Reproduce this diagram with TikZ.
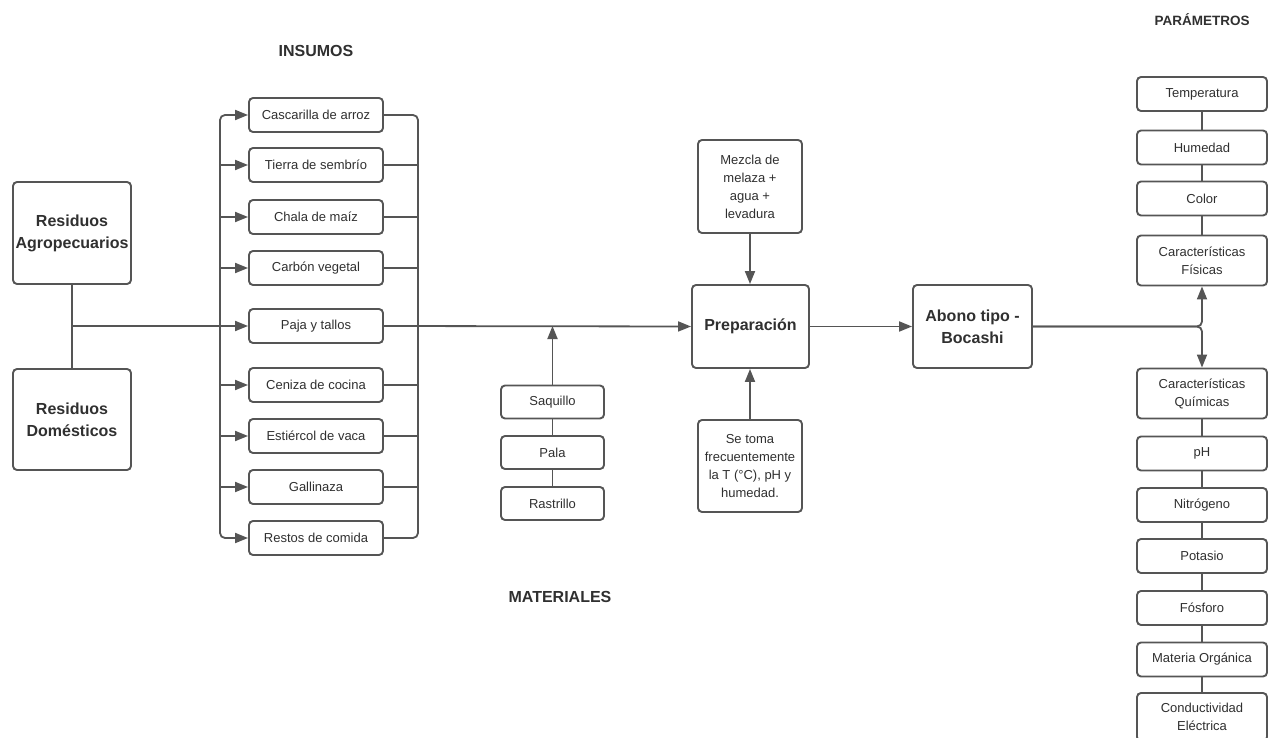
\documentclass[tikz,border=0pt]{standalone}
\usepackage{fontspec}
\setmainfont{Liberation Sans}
\usetikzlibrary{arrows.meta}
\definecolor{ln}{HTML}{555555}
\definecolor{tx}{HTML}{303030}
\begin{document}
\begin{tikzpicture}[x=1pt,y=-1pt,
  box/.style={draw=ln, line width=1.9pt, rounded corners=4pt, fill=white, text=tx, align=center, inner sep=1pt, font=\fontsize{13}{18}\selectfont},
  bigbox/.style={box, font=\bfseries\fontsize{16}{22}\selectfont},
  ibox/.style={box, minimum width=134pt, minimum height=34pt},
  mbox/.style={box, minimum width=103pt, minimum height=33pt},
  pbox/.style={box, minimum width=130pt, minimum height=34pt},
  pbox2/.style={box, minimum width=130pt, minimum height=50pt},
  conn/.style={draw=ln, line width=1.8pt},
  arr/.style={conn, -{Triangle[length=13pt,width=10pt]}},
  ttl/.style={text=tx, font=\bfseries\fontsize{16}{18}\selectfont}]
\useasboundingbox (0,0) rectangle (1270,738);
\fill[white] (0,0) rectangle (1270,738);

% titles
\node[ttl] (tins) at (316,51) {INSUMOS};
\node[ttl] (tmat) at (560,597) {MATERIALES};
\node[ttl, font=\bfseries\fontsize{13.5}{16}\selectfont] (tpar) at (1202,20) {PARÁMETROS};

% residuos
\node[bigbox, minimum width=118pt, minimum height=102pt] (agro) at (72,233) {Residuos\\Agropecuarios};
\node[bigbox, minimum width=118pt, minimum height=101pt] (dom) at (72,419.5) {Residuos\\Domésticos};

% insumos
\node[ibox] (cas) at (316,115) {Cascarilla de arroz};
\node[ibox] (tie) at (316,165) {Tierra de sembrío};
\node[ibox] (cha) at (316,217) {Chala de maíz};
\node[ibox] (car) at (316,268) {Carbón vegetal};
\node[ibox] (paj) at (316,326) {Paja y tallos};
\node[ibox] (cen) at (316,385) {Ceniza de cocina};
\node[ibox] (est) at (316,436) {Estiércol de vaca};
\node[ibox] (gal) at (316,487) {Gallinaza};
\node[ibox] (res) at (316,538) {Restos de comida};

% materiales
\node[mbox] (saq) at (552.5,402) {Saquillo};
\node[mbox] (pal) at (552.5,452.5) {Pala};
\node[mbox] (ras) at (552.5,503.5) {Rastrillo};

% center
\node[bigbox, minimum width=117pt, minimum height=83pt] (prep) at (750.5,326.5) {Preparación};
\node[box, minimum width=104pt, minimum height=93pt] (mez) at (750,186.5) {Mezcla de\\melaza +\\agua +\\levadura};
\node[box, minimum width=104pt, minimum height=92pt] (se) at (750,466) {Se toma\\frecuentemente\\la T (°C), pH y\\humedad.};
\node[bigbox, minimum width=119pt, minimum height=83pt] (abo) at (972.5,326.5) {Abono tipo -\\Bocashi};

% parametros
\node[pbox] (tem) at (1202,94) {Temperatura};
\node[pbox] (hum) at (1202,147.5) {Humedad};
\node[pbox] (col) at (1202,198.5) {Color};
\node[pbox2] (fis) at (1202,260.5) {Características\\Físicas};
\node[pbox2] (qui) at (1202,393.5) {Características\\Químicas};
\node[pbox] (ph) at (1202,453.5) {pH};
\node[pbox] (nit) at (1202,505) {Nitrógeno};
\node[pbox] (pot) at (1202,556) {Potasio};
\node[pbox] (fos) at (1202,608) {Fósforo};
\node[pbox] (mat) at (1202,659.5) {Materia Orgánica};
\node[box, minimum width=130pt, minimum height=48pt] (con) at (1202,717) {Conductividad\\Eléctrica};

% residuos connectors
\coordinate (rj) at (agro.south |- paj.west);
\draw[conn] (agro) -- (dom);
\draw[arr] (rj) -- (paj.west);

% left bus
\coordinate (lb) at (220,326);
\draw[arr, rounded corners=5pt] (lb) |- (cas.west);
\draw[arr, rounded corners=5pt] (lb) |- (res.west);
\foreach \n in {tie,cha,car,cen,est,gal}
  \draw[arr] (lb |- \n.west) -- (\n.west);

% right bus
\coordinate (rb) at (418,326);
\draw[conn, rounded corners=5pt] (cas.east) -| (rb);
\draw[conn, rounded corners=5pt] (res.east) -| (rb);
\foreach \n in {tie,cha,car,cen,est,gal}
  \draw[conn] (\n.east) -- (rb |- \n.east);

% main line
\draw[arr] (paj.east) -- (prep.west);
\draw[arr] (saq.north) -- (saq.north |- paj.east);
\draw[conn] (saq) -- (pal);
\draw[conn] (pal) -- (ras);
\draw[arr] (mez.south) -- (mez.south |- prep.north);
\draw[arr] (se.north) -- (se.north |- prep.south);
\draw[arr] (prep.east) -- (abo.west);
\draw[arr, rounded corners=5pt] (abo.east) -| (fis.south);
\draw[arr, rounded corners=5pt] (abo.east) -| (qui.north);

% parameter chains
\draw[conn] (tem) -- (hum);
\draw[conn] (hum) -- (col);
\draw[conn] (col) -- (fis);
\draw[conn] (qui) -- (ph);
\draw[conn] (ph) -- (nit);
\draw[conn] (nit) -- (pot);
\draw[conn] (pot) -- (fos);
\draw[conn] (fos) -- (mat);
\draw[conn] (mat) -- (con);
\end{tikzpicture}
\end{document}
